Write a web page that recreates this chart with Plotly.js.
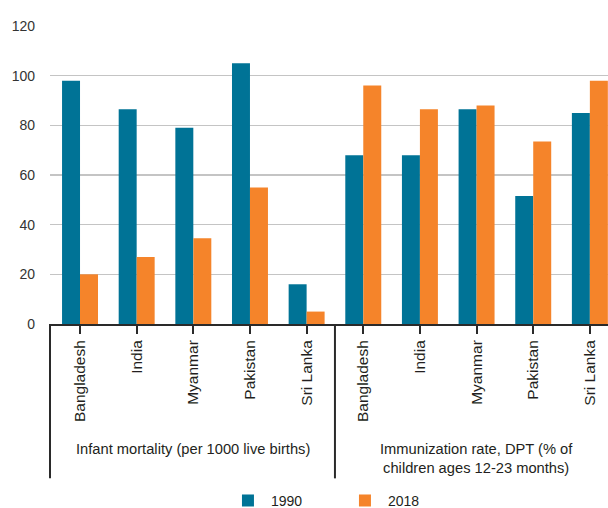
<!DOCTYPE html>
<html>
<head>
<meta charset="utf-8">
<script src="https://cdn.plot.ly/plotly-3.0.1.min.js"></script>
<style>html,body{margin:0;padding:0;background:#fff;}#chart{width:608px;height:508px;}</style>
</head>
<body>
<div id="chart"></div>
<script>
var countries = ["Bangladesh", "India", "Myanmar", "Pakistan", "Sri Lanka"];
var groupLabels = ["Infant mortality (per 1000 live births)", "Immunization rate, DPT (% of<br>children ages 12-23 months)"];
var seriesNames = ["1990", "2018"];
var mortality1990 = [98, 86.5, 79, 105, 16];
var mortality2018 = [20, 27, 34.5, 55, 5];
var immun1990 = [68, 68, 86.5, 51.5, 85];
var immun2018 = [96, 86.5, 88, 73.5, 98];
var yTicks = [0, 20, 40, 60, 80, 100, 120];

var tickText = countries.concat(countries);
var xIdx = tickText.map(function (_, i) { return i; });
var v1990 = mortality1990.concat(immun1990);
var v2018 = mortality2018.concat(immun2018);

var font = "Liberation Sans, Arial, Helvetica, sans-serif";
var txt = "#231f20";

var traces = [
  {type: "bar", name: seriesNames[0], x: xIdx, y: v1990, marker: {color: "#007396"}, hoverinfo: "none"},
  {type: "bar", name: seriesNames[1], x: xIdx, y: v2018, marker: {color: "#f5842a"}, hoverinfo: "none"}
];

var layout = {
  width: 608, height: 508,
  margin: {l: 50, r: 0, t: 26, b: 184, autoexpand: false},
  paper_bgcolor: "#fff", plot_bgcolor: "#fff",
  barmode: "group", bargap: 0.365, bargroupgap: 0,
  font: {family: font, color: txt},
  showlegend: true,
  legend: {orientation: "h", xref: "container", x: 0.370, xanchor: "left", yref: "container", y: 0.014, yanchor: "middle",
           font: {size: 14, color: txt}, itemwidth: 36, entrywidth: 66, entrywidthmode: "pixels", traceorder: "normal"},
  xaxis: {
    range: [-0.53, 9.32], tickmode: "array", tickvals: xIdx, ticktext: tickText,
    tickangle: -90, tickfont: {size: 15.5, color: txt},
    ticks: "outside", ticklen: 8, tickwidth: 2, tickcolor: "#2a2a2a",
    showline: true, linecolor: "#2a2a2a", linewidth: 2, automargin: false,
    showgrid: false, zeroline: false, fixedrange: true
  },
  yaxis: {
    range: [0, 120], tickmode: "array", tickvals: yTicks, automargin: false,
    tickfont: {size: 14, color: "#333"}, ticks: "", ticklabelstandoff: 14,
    showgrid: true, gridcolor: "#c4c4c4", gridwidth: 1.5,
    zeroline: false, showline: false, fixedrange: true
  },
  shapes: [
    {type: "line", xref: "paper", x0: 0, x1: 0, yref: "paper", y0: 0, y1: -0.518, line: {color: "#2a2a2a", width: 2}},
    {type: "line", xref: "x", x0: 4.5, x1: 4.5, yref: "paper", y0: 0, y1: -0.518, line: {color: "#2a2a2a", width: 2}}
  ],
  annotations: [
    {xref: "x", x: 2, yref: "paper", y: -0.418, yanchor: "middle", text: groupLabels[0], showarrow: false, font: {size: 14.7, color: txt}},
    {xref: "x", x: 7, yref: "paper", y: -0.45, yanchor: "middle", text: groupLabels[1], showarrow: false, font: {size: 14.7, color: txt}}
  ]
};

Plotly.newPlot("chart", traces, layout, {displayModeBar: false, staticPlot: true});
</script>
</body>
</html>
